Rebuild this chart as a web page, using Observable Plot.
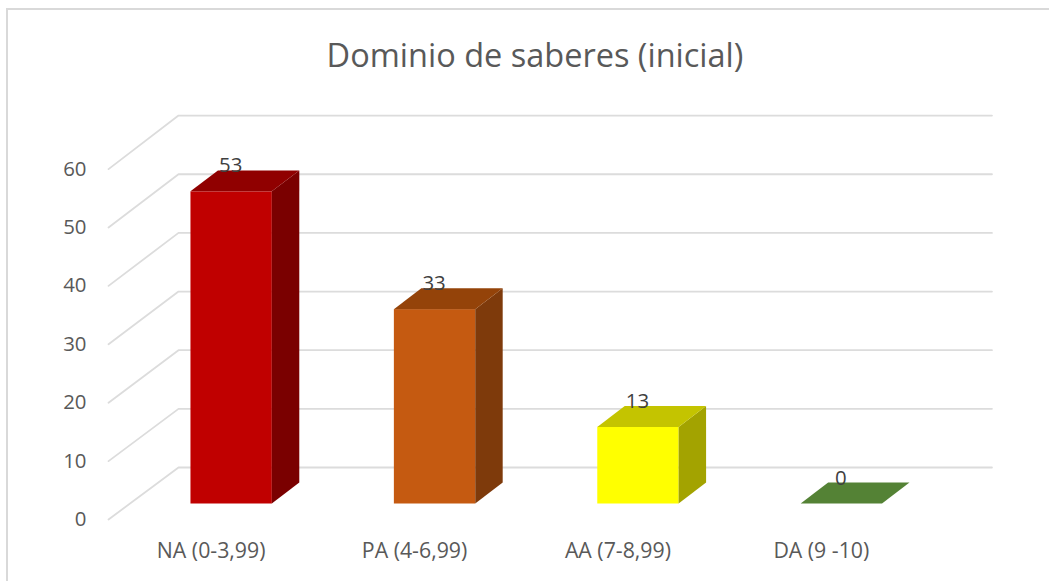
<!DOCTYPE html>
<html>
<head>
<meta charset="utf-8">
<script src="https://cdn.jsdelivr.net/npm/d3@7"></script>
<script src="https://cdn.jsdelivr.net/npm/@observablehq/plot@0.6"></script>
<style>
  html, body { margin: 0; padding: 0; background: #fff; overflow: hidden; }
  #frame { position: absolute; left: 6px; top: 8px; width: 1043px; height: 573px; border-left: 2px solid #d9d9d9; border-top: 2px solid #d9d9d9; box-sizing: border-box; }
  #title { position: absolute; left: 0; top: 0; width: 1070px; height: 90px; text-align: center; font: 32.5px "Open Sans", sans-serif; line-height: 110px; color: #595959; }
  #chart { position: absolute; left: 0; top: 90px; }
  #chart svg { display: block; }
</style>
</head>
<body>
<div id="frame"></div>
<div id="title">Dominio de saberes (inicial)</div>
<div id="chart"></div>
<script>
const categories = ["NA (0-3,99)", "PA (4-6,99)", "AA (7-8,99)", "DA (9 -10)"];
const values = [53, 33, 13, 0];
const frontColors = ["#C00000", "#C55A11", "#FFFF00", "#548235"];
const topColors = ["#900000", "#944309", "#C4C400", "#548235"];
const sideColors = ["#7A0000", "#7E3A0B", "#A3A300", "#548235"];
const yTicks = [0, 10, 20, 30, 40, 50, 60];

// Projection of the 3D box, in data units
const halfBar = 0.2, depthX = 0.135, depthY = 3.55;
const wallFrontX = -0.6053, wallBackX = -0.2613, wallEndX = 3.738;
const wallFront = v => -2.632 + 0.9915 * v;
const wallBack = v => 6.197 + 0.9958 * v;

const gridRows = yTicks.flatMap(t => [
  {t, x: wallFrontX, y: wallFront(t)},
  {t, x: wallBackX, y: wallBack(t)},
  {t, x: wallEndX, y: wallBack(t)}
]);

const bars = values.map((v, i) => ({i, v, color: frontColors[i]}));

const faceRows = values.flatMap((v, i) => {
  const l = i - halfBar, r = i + halfBar;
  const side = v > 0 ? [
    {face: `s${i}`, color: sideColors[i], x: r, y1: 0, y2: v},
    {face: `s${i}`, color: sideColors[i], x: r + depthX, y1: depthY, y2: v + depthY}
  ] : [];
  const top = [
    {face: `t${i}`, color: topColors[i], x: l, y1: v, y2: v},
    {face: `t${i}`, color: topColors[i], x: l + depthX, y1: v, y2: v + depthY},
    {face: `t${i}`, color: topColors[i], x: r, y1: v, y2: v + depthY},
    {face: `t${i}`, color: topColors[i], x: r + depthX, y1: v + depthY, y2: v + depthY}
  ];
  return [...side, ...top];
});

const font = '"Open Sans", sans-serif';

const chart = Plot.plot({
  width: 1049,
  height: 491,
  marginTop: 0, marginRight: 0, marginLeft: 0, marginBottom: 30,
  style: {background: "transparent", fontFamily: font, overflow: "visible"},
  x: {type: "linear", domain: [0, 3], range: [231.15, 841.35], axis: null},
  y: {type: "linear", domain: [0, 60], range: [413.5, 60.1], axis: null},
  marks: [
    Plot.line(gridRows, {x: "x", y: "y", z: "t", stroke: "#dcdcdc", strokeWidth: 1.8, curve: "linear"}),
    Plot.rect(bars.filter(d => d.v > 0), {x1: d => d.i - halfBar, x2: d => d.i + halfBar, y1: () => 0, y2: "v", fill: d => d.color}),
    Plot.area(faceRows, {x1: "x", y1: "y1", y2: "y2", z: "face", fill: d => d.color, curve: "linear"}),
    Plot.text(yTicks, {x: () => wallFrontX, y: d => wallFront(d), text: d => String(d), dx: -22, textAnchor: "end", fontSize: 20.4, fill: "#595959"}),
    Plot.text(categories, {x: (d, i) => i, y: () => -8, dx: -20.5, text: d => d, textAnchor: "middle", fontSize: 21.3, fill: "#595959"}),
    Plot.text(bars, {x: d => d.i, y: d => d.v + depthY, dx: -1, dy: -5, text: d => String(d.v), textAnchor: "middle", fontSize: 20.4, fill: "#404040"})
  ]
});
document.getElementById("chart").append(chart);
</script>
</body>
</html>
